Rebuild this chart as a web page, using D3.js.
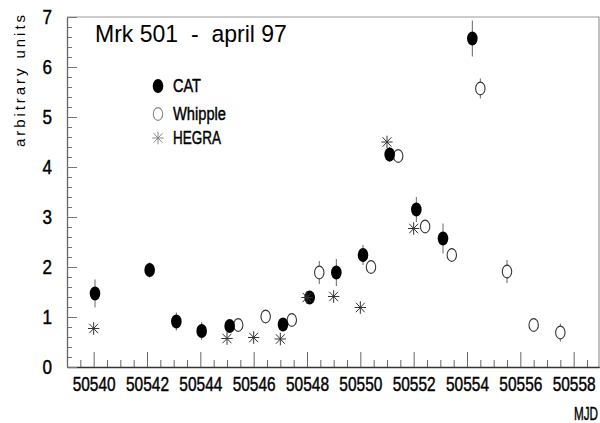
<!DOCTYPE html>
<html>
<head>
<meta charset="utf-8">
<script src="https://cdn.jsdelivr.net/npm/d3@7"></script>
<style>
  body { margin: 0; background: #fff; }
  text { font-family: "Liberation Sans", Arial, sans-serif; fill: #000; }
  .heavy { stroke: #000; stroke-width: 0.45; }
</style>
</head>
<body>
<div id="chart"></div>
<script>
// light curve values (MJD, arbitrary units, error)
const catDays = [50540.05, 50542.1, 50543.1, 50544.05, 50545.1, 50547.1, 50548.1, 50549.1, 50550.1, 50551.1, 50552.1, 50553.1, 50554.2];
const catFlux = [1.47, 1.94, 0.91, 0.72, 0.82, 0.85, 1.39, 1.89, 2.24, 4.25, 3.15, 2.57, 6.57];
const catErr  = [0.28, 0.15, 0.18, 0.18, 0.12, 0.12, 0.1, 0.27, 0.2, 0.15, 0.25, 0.3, 0.36];

const whippleDays = [50545.42, 50546.45, 50547.43, 50548.46, 50550.4, 50551.42, 50552.43, 50553.43, 50554.5, 50555.5, 50556.5, 50557.5];
const whippleFlux = [0.84, 1.01, 0.94, 1.89, 2.0, 4.22, 2.81, 2.24, 5.57, 1.91, 0.84, 0.69];
const whippleErr  = [0.1, 0.1, 0.1, 0.23, 0.1, 0.1, 0.1, 0.1, 0.2, 0.23, 0.1, 0.18];

const hegraDays = [50540, 50545, 50546, 50547, 50548, 50549, 50550, 50551, 50552];
const hegraFlux = [0.77, 0.57, 0.59, 0.56, 1.39, 1.41, 1.19, 4.5, 2.77];

const xMajorTicks = [50540, 50542, 50544, 50546, 50548, 50550, 50552, 50554, 50556, 50558];
const yMajorTicks = [0, 1, 2, 3, 4, 5, 6, 7];

const width = 600, height = 423;
const padLeft = 67, padRight = 599, padTop = 17, padBottom = 367;

const svg = d3.select("#chart")
    .append("svg")
    .attr("width", width)
    .attr("height", height);

const x = d3.scaleLinear().domain([50539, 50558.95]).range([padLeft, padRight]);
const y = d3.scaleLinear().domain([0, 7]).range([padBottom, padTop]);

// squeeze a text horizontally to a given width (the original uses a narrow font)
function condense(sel, w) {
    sel.each(function () {
        const n = this.getComputedTextLength();
        const tx = +this.getAttribute("x") || 0;
        this.setAttribute("x", 0);
        const prev = this.getAttribute("transform") || "";
        this.setAttribute("transform", `${prev} translate(${tx},0) scale(${w / n},1)`);
    });
}

// frame (top and right)
svg.append("path")
    .attr("d", `M${padLeft},${padTop}H${padRight}V${padBottom}`)
    .attr("fill", "none")
    .attr("stroke", "#999")
    .attr("stroke-width", 1.2);

// x axis: minor ticks every half day, major every two days
const xMinor = d3.range(50539.5, 50559, 0.5).filter(d => !xMajorTicks.includes(d));
svg.append("g")
    .attr("transform", `translate(0,${padBottom})`)
    .call(d3.axisBottom(x).tickValues(xMinor).tickSize(-7).tickSizeOuter(0).tickFormat(""))
    .call(g => g.selectAll("line").attr("stroke", "#666"));
svg.append("g")
    .attr("transform", `translate(0,${padBottom})`)
    .call(d3.axisBottom(x).tickValues(xMajorTicks).tickSize(-15).tickSizeOuter(0).tickPadding(10).tickFormat(d3.format("d")))
    .call(g => g.select(".domain").attr("stroke", "#333").attr("stroke-width", 1.3))
    .call(g => g.selectAll("line").attr("stroke", "#666"))
    .call(g => g.selectAll("text")
        .attr("class", "heavy")
        .attr("font-family", "Liberation Sans, Arial, sans-serif")
        .attr("font-size", 20)
        .attr("fill", "#000")
        .call(condense, 43));

// y axis: minor ticks every 0.2
const yMinor = d3.range(0.2, 7, 0.2).filter(d => Math.abs(d - Math.round(d)) > 0.01);
svg.append("g")
    .attr("transform", `translate(${padLeft},0)`)
    .call(d3.axisLeft(y).tickValues(yMinor).tickSize(-5).tickSizeOuter(0).tickFormat(""))
    .call(g => g.selectAll("line").attr("stroke", "#777"));
svg.append("g")
    .attr("transform", `translate(${padLeft},0)`)
    .call(d3.axisLeft(y).tickValues(yMajorTicks).tickSize(-10).tickSizeOuter(0).tickPadding(15).tickFormat(d3.format("d")))
    .call(g => g.select(".domain").attr("stroke", "#666").attr("stroke-width", 1.3))
    .call(g => g.selectAll("line").attr("stroke", "#777"))
    .call(g => g.selectAll("text")
        .attr("class", "heavy")
        .attr("font-family", "Liberation Sans, Arial, sans-serif")
        .attr("font-size", 20)
        .attr("fill", "#000")
        .call(condense, 9.5));

// axis titles
svg.append("text")
    .attr("class", "heavy")
    .attr("x", 598)
    .attr("y", 420)
    .attr("text-anchor", "end")
    .attr("font-size", 19)
    .text("MJD")
    .call(condense, 24);

svg.append("text")
    .attr("transform", "translate(25,147) rotate(-90)")
    .attr("font-size", 15)
    .attr("textLength", 132)
    .attr("lengthAdjust", "spacing")
    .text("arbitrary units");

svg.append("text")
    .attr("x", 95)
    .attr("y", 42)
    .attr("font-size", 23.5)
    .style("white-space", "pre")
    .text("Mrk 501  -  april 97")
    .call(condense, 192);

// marker helpers
function filledDot(g, cx, cy) {
    g.append("ellipse").attr("cx", cx).attr("cy", cy).attr("rx", 5.3).attr("ry", 7).attr("fill", "#000");
}
function openDot(g, cx, cy, stroke) {
    g.append("ellipse").attr("cx", cx).attr("cy", cy).attr("rx", 4.7).attr("ry", 6.4)
        .attr("fill", "#fff").attr("stroke", stroke).attr("stroke-width", 1.1);
}
function star(g, cx, cy, stroke) {
    const r = 6.3;
    [[0, -r, 0, r], [-r * 0.9, 0, r * 0.9, 0], [-r * 0.7, -r * 0.75, r * 0.7, r * 0.75], [-r * 0.7, r * 0.75, r * 0.7, -r * 0.75]]
        .forEach(l => g.append("line")
            .attr("x1", cx + l[0]).attr("y1", cy + l[1])
            .attr("x2", cx + l[2]).attr("y2", cy + l[3])
            .attr("stroke", stroke).attr("stroke-width", 1));
}

const plot = svg.append("g");

function errorBars(days, flux, err) {
    plot.selectAll(null)
        .data(days.map((d, i) => ({ d: d, v: flux[i], e: err[i] })))
        .enter()
        .append("line")
        .attr("x1", p => x(p.d)).attr("x2", p => x(p.d))
        .attr("y1", p => y(p.v - p.e)).attr("y2", p => y(p.v + p.e))
        .attr("stroke", "#666")
        .attr("stroke-width", 1);
}

errorBars(whippleDays, whippleFlux, whippleErr);
whippleDays.forEach((d, i) => openDot(plot, x(d), y(whippleFlux[i]), "#333"));

errorBars(catDays, catFlux, catErr);
catDays.forEach((d, i) => filledDot(plot, x(d), y(catFlux[i])));

hegraDays.forEach((d, i) => star(plot, x(d), y(hegraFlux[i]), "#333"));

// legend
const legend = svg.append("g");
const legendItems = ["CAT", "Whipple", "HEGRA"];
const legendWidths = [28, 53, 48];
const legendY = [86, 114, 138];
filledDot(legend, 158, legendY[0]);
openDot(legend, 158, legendY[1], "#888");
star(legend, 158, legendY[2], "#888");
legendItems.forEach((t, i) => {
    legend.append("text")
        .attr("class", "heavy")
        .attr("x", 173)
        .attr("y", legendY[i] + 6)
        .attr("font-size", 18.5)
        .text(t)
        .call(condense, legendWidths[i]);
});
</script>
</body>
</html>
